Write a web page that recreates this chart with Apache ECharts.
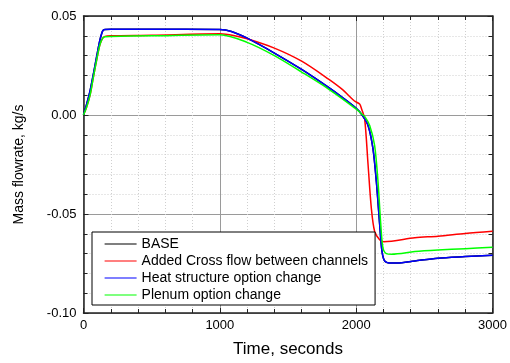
<!DOCTYPE html>
<html>
<head>
<meta charset="utf-8">
<script src="https://cdn.jsdelivr.net/npm/echarts@6/dist/echarts.min.js"></script>
<style>
html,body{margin:0;padding:0;background:#fff;}
#chart{width:510px;height:363px;}
</style>
</head>
<body>
<div id="chart"></div>
<script>
// ---- data ----
const seriesNames = ["BASE", "Added Cross flow between channels", "Heat structure option change", "Plenum option change"];

const timeHeat = [0, 23, 48, 72, 97, 121, 141, 157, 200, 500, 1000, 1085, 1200, 1400, 1600, 1800, 1900, 2000, 2038, 2087, 2123, 2148, 2172, 2189, 2209, 2258, 2300, 2430, 2600, 2800, 3000];
const valHeat  = [0, 0.0055, 0.0122, 0.0205, 0.0297, 0.038, 0.0425, 0.0432, 0.0433, 0.0433, 0.0432, 0.0422, 0.0388, 0.0313, 0.023, 0.0138, 0.0088, 0.0034, 0.0005, -0.0053, -0.017, -0.0337, -0.055, -0.0687, -0.0737, -0.0748, -0.0748, -0.0737, -0.0723, -0.0715, -0.0708];

const timeBase = timeHeat.slice();
const valBase  = valHeat.slice();

const timeCross = [0, 23, 48, 72, 97, 121, 141, 157, 200, 500, 1000, 1100, 1200, 1400, 1600, 1800, 1900, 1985, 2025, 2040, 2062, 2087, 2111, 2135, 2172, 2203, 2430, 2600, 2800, 3000];
const valCross  = [0, 0.004, 0.010, 0.019, 0.028, 0.0357, 0.0388, 0.0397, 0.0400, 0.0403, 0.0410, 0.0402, 0.0385, 0.0338, 0.0272, 0.018, 0.0128, 0.0072, 0.0055, 0.003, -0.002, -0.025, -0.047, -0.0587, -0.063, -0.064, -0.062, -0.0612, -0.0598, -0.0587];

const timePlenum = [0, 23, 48, 72, 97, 121, 141, 157, 200, 500, 1000, 1200, 1400, 1600, 1800, 2000, 2040, 2062, 2099, 2135, 2160, 2180, 2196, 2221, 2260, 2430, 2600, 2800, 3000];
const valPlenum  = [0, 0.004, 0.010, 0.019, 0.028, 0.0357, 0.0388, 0.0395, 0.0397, 0.0400, 0.0405, 0.0367, 0.030, 0.0217, 0.013, 0.003, 0.0005, -0.0007, -0.0053, -0.0153, -0.0337, -0.055, -0.067, -0.070, -0.0703, -0.069, -0.0682, -0.0675, -0.0668];

const xTicks = [0, 1000, 2000, 3000];
const yTicks = [-0.10, -0.05, 0.00, 0.05];

// ---- chart ----
const FONT = "'Liberation Sans', Arial, sans-serif";
const pairs = (t, v) => t.map((x, i) => [x, v[i]]);
const colors = ["#000000", "#ff0000", "#0000ff", "#00ff00"];
const dataSets = [pairs(timeBase, valBase), pairs(timeCross, valCross), pairs(timeHeat, valHeat), pairs(timePlenum, valPlenum)];

const axisLineStyle = {color: "#222", width: 1.5};
function mkX(pos, main) {
  return {
    type: "value", position: pos,
    min: xTicks[0], max: xTicks[xTicks.length - 1], interval: xTicks[1] - xTicks[0],
    axisLine: {show: true, onZero: false, lineStyle: axisLineStyle},
    axisTick: {show: true, inside: true, length: 5, lineStyle: {color: "#222"}},
    minorTick: {show: true, splitNumber: 5, length: 4, lineStyle: {color: "#222"}},
    splitLine: {show: main, lineStyle: {color: "#9a9a9a", width: 1}},
    minorSplitLine: {show: main, lineStyle: {color: "#cfcfcf", type: [1, 2], width: 1}},
    axisLabel: {show: main, fontSize: 13, color: "#000", margin: 6, fontFamily: FONT,
      formatter: v => String(Math.round(v))},
    name: main ? "Time, seconds" : "",
    nameLocation: "middle", nameGap: 28,
    nameTextStyle: {fontSize: 17, color: "#000", fontFamily: FONT}
  };
}
function mkY(pos, main) {
  return {
    type: "value", position: pos,
    min: yTicks[0], max: yTicks[yTicks.length - 1], interval: yTicks[1] - yTicks[0],
    axisLine: {show: true, onZero: false, lineStyle: axisLineStyle},
    axisTick: {show: true, inside: true, length: 5, lineStyle: {color: "#222"}},
    minorTick: {show: true, splitNumber: 5, length: 4, lineStyle: {color: "#222"}},
    splitLine: {show: main, lineStyle: {color: "#9a9a9a", width: 1}},
    minorSplitLine: {show: main, lineStyle: {color: "#cfcfcf", type: [1, 2], width: 1}},
    axisLabel: {show: main, fontSize: 13, color: "#000", margin: 7, fontFamily: FONT,
      formatter: v => (Math.abs(v) < 1e-9 ? 0 : v).toFixed(2)},
    name: main ? "Mass flowrate, kg/s" : "",
    nameLocation: "middle", nameGap: 57,
    nameTextStyle: {fontSize: 14, color: "#000", fontFamily: FONT}
  };
}

const chart = echarts.init(document.getElementById("chart"), null, {renderer: "canvas"});
chart.setOption({
  animation: false,
  backgroundColor: "#fff",
  grid: {left: 83.5, right: 17, top: 16, bottom: 47, containLabel: false},
  xAxis: [mkX("bottom", true), mkX("top", false)],
  yAxis: [mkY("left", true), mkY("right", false)],
  legend: {
    orient: "vertical", left: 92, top: 232,
    padding: [5, 7, 3, 12], itemGap: 3, itemWidth: 32, itemHeight: 14,
    borderColor: "#000", borderWidth: 1, backgroundColor: "#fff", borderRadius: 0,
    itemStyle: {opacity: 0},
    lineStyle: {width: 1.2},
    textStyle: {fontSize: 14, color: "#000", fontFamily: FONT},
    data: seriesNames
  },
  series: seriesNames.map((n, i) => ({
    name: n, type: "line", xAxisIndex: 0, yAxisIndex: 0,
    data: dataSets[i], symbol: "none", smooth: 0.3,
    lineStyle: {color: colors[i], width: 1.5}, itemStyle: {color: colors[i]},
    z: 2 + i
  }))
});
</script>
</body>
</html>
